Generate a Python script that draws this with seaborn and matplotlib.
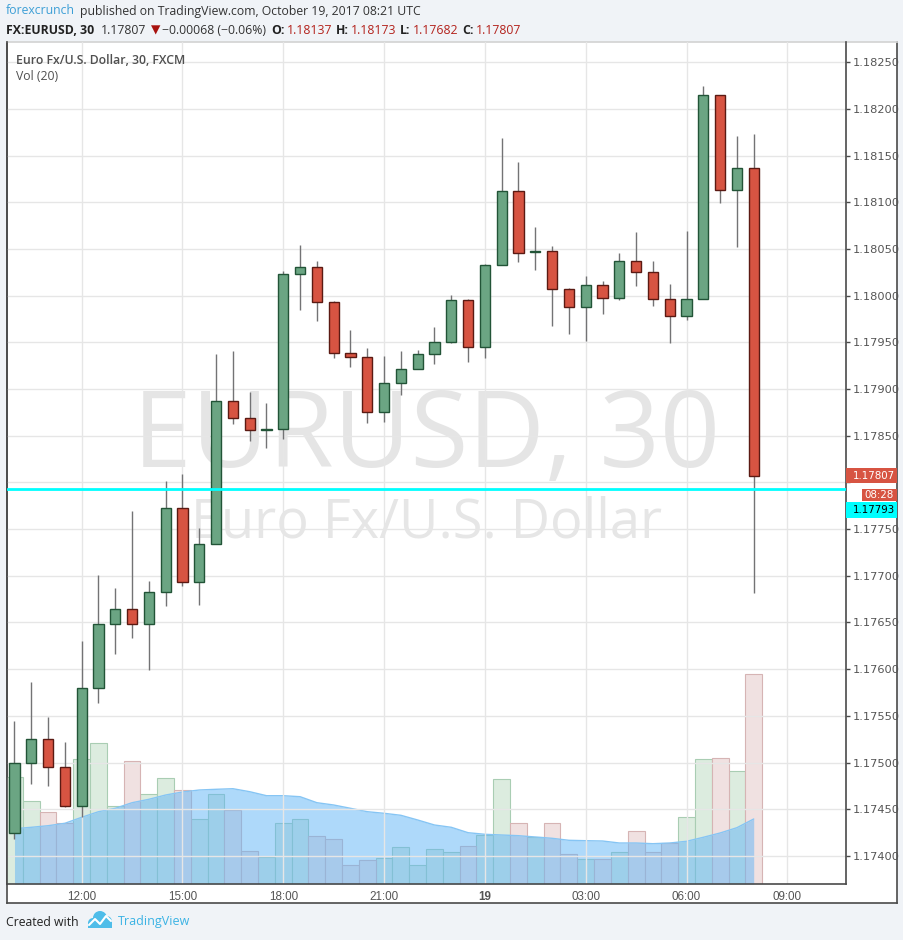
#EURUSD 30 min - recriacao do grafico do TradingView
import numpy as np
import pandas as pd
import matplotlib
matplotlib.use("Agg")
import matplotlib.pyplot as plt
import seaborn as sns
from matplotlib.patches import Rectangle, Circle
from matplotlib.transforms import IdentityTransform

#DADOS - candles de 30 min (18/10 10:00 ate 19/10 08:00)
abertura = [1.17424, 1.17499, 1.17525, 1.17495, 1.17453, 1.17580, 1.17648, 1.17664, 1.17648, 1.17683,
            1.17773, 1.17693, 1.17734, 1.17887, 1.17869, 1.17856, 1.17857, 1.18023, 1.18031, 1.17993,
            1.17939, 1.17934, 1.17875, 1.17907, 1.17922, 1.17938, 1.17950, 1.17995, 1.17945, 1.18033,
            1.18112, 1.18047, 1.18048, 1.18007, 1.17988, 1.18011, 1.17998, 1.18037, 1.18025, 1.17996,
            1.17978, 1.17996, 1.18215, 1.18113, 1.18137]
maxima = [1.17544, 1.17586, 1.17549, 1.17522, 1.17630, 1.17701, 1.17687, 1.17769, 1.17694, 1.17802,
          1.17809, 1.17751, 1.17938, 1.17941, 1.17897, 1.17885, 1.18026, 1.18054, 1.18037, 1.17994,
          1.17963, 1.17944, 1.17935, 1.17941, 1.17942, 1.17966, 1.18001, 1.17996, 1.18034, 1.18169,
          1.18143, 1.18074, 1.18053, 1.18008, 1.18021, 1.18016, 1.18046, 1.18068, 1.18037, 1.18013,
          1.18069, 1.18225, 1.18215, 1.18171, 1.18173]
minima = [1.17418, 1.17477, 1.17475, 1.17452, 1.17442, 1.17564, 1.17616, 1.17633, 1.17599, 1.17668,
          1.17689, 1.17669, 1.17734, 1.17863, 1.17844, 1.17837, 1.17847, 1.17985, 1.17973, 1.17933,
          1.17924, 1.17864, 1.17865, 1.17894, 1.17921, 1.17927, 1.17949, 1.17929, 1.17933, 1.18033,
          1.18036, 1.18028, 1.17968, 1.17959, 1.17951, 1.17980, 1.17995, 1.18010, 1.17989, 1.17949,
          1.17974, 1.17996, 1.18099, 1.18052, 1.17682]
fechamento = [1.17499, 1.17525, 1.17495, 1.17453, 1.17580, 1.17648, 1.17664, 1.17648, 1.17683, 1.17773,
              1.17693, 1.17734, 1.17887, 1.17869, 1.17856, 1.17857, 1.18023, 1.18031, 1.17993, 1.17939,
              1.17934, 1.17875, 1.17907, 1.17922, 1.17938, 1.17950, 1.17995, 1.17945, 1.18033, 1.18112,
              1.18046, 1.18047, 1.18007, 1.17988, 1.18011, 1.17998, 1.18037, 1.18025, 1.17996, 1.17978,
              1.17996, 1.18215, 1.18113, 1.18137, 1.17807]

#volume (unidades relativas)
volume = [1067, 827, 717, 610, 1250, 1407, 780, 1230, 897, 1057,
          937, 647, 897, 737, 327, 267, 607, 647, 477, 447,
          187, 237, 257, 367, 187, 347, 317, 377, 490, 1050,
          607, 467, 607, 297, 247, 247, 317, 527, 317, 407,
          670, 1247, 1257, 1127, 2097]
#media do volume - Vol (20)
vol_media = [553, 567, 583, 607, 667, 723, 757, 813, 847, 890,
             920, 940, 947, 953, 923, 883, 883, 873, 813, 790,
             757, 723, 707, 687, 640, 590, 567, 513, 497, 490,
             483, 470, 457, 437, 433, 430, 410, 410, 403, 410,
             427, 467, 510, 563, 650]

#eixo x (posicao do candle) e rotulos
hora_pos = [4, 10, 16, 22, 28, 34, 40, 46]
hora_rotulos = ["12:00", "15:00", "18:00", "21:00", "19", "03:00", "06:00", "09:00"]

#eixo de precos
preco_ticks = [1.17400, 1.17450, 1.17500, 1.17550, 1.17600, 1.17650, 1.17700, 1.17750, 1.17800,
               1.17850, 1.17900, 1.17950, 1.18000, 1.18050, 1.18100, 1.18150, 1.18200, 1.18250]

linha_ciano = 1.17793

df = pd.DataFrame({
    "idx": np.arange(len(abertura)),
    "o": abertura, "h": maxima, "l": minima, "c": fechamento,
    "vol": volume, "ma": vol_media,
})
df["lado"] = np.where(df["c"] >= df["o"], "alta", "baixa")

#CONFIGURACOES VISUAIS
sns.set_theme(style="white")
plt.rcParams["font.family"] = ["Open Sans", "DejaVu Sans"]

W, H = 904, 940
fig = plt.figure(figsize=(W / 100, H / 100), dpi=100)
fig.patch.set_facecolor("#f0f3f7")


def px(x0, y0, x1, y1):
    #retangulo em pixels (a partir do topo) -> fracao da figura
    return [x0 / W, 1 - y1 / H, (x1 - x0) / W, (y1 - y0) / H]


XLIM = (-0.446, 49.476)
YLIM = (1.173699, 1.182717)

#moldura externa
frame = fig.add_axes(px(7, 42, 897, 903))
frame.set_xticks([])
frame.set_yticks([])
frame.set_facecolor("white")
for s in ["left", "right", "bottom"]:
    frame.spines[s].set_color("#4a4a4a")
    frame.spines[s].set_linewidth(1.2)
frame.spines["top"].set_color("#d4d4d4")

#VOLUME
ax_vol = fig.add_axes(px(7, 42, 845.7, 884))
ax_vol.set_facecolor("none")
sns.barplot(
    data=df, x="idx", y="vol", hue="lado",
    palette={"alta": "#dcecdf", "baixa": "#f0e1e1"},
    native_scale=True, width=1.0, dodge=False, errorbar=None,
    saturation=1, legend=False, ax=ax_vol, linewidth=0.8,
)
for p in ax_vol.patches:
    i = int(round(p.get_x() + p.get_width() / 2))
    p.set_edgecolor("#a9cdb3" if df.loc[i, "lado"] == "alta" else "#d6b4b4")

#media movel do volume (area azul)
ax_vol.fill_between(df["idx"], df["ma"], color="#5fb4f6", alpha=0.5, lw=0, zorder=3)
sns.lineplot(data=df, x="idx", y="ma", color="#86c5f4", lw=1, ax=ax_vol, zorder=4)
ax_vol.set_xlim(*XLIM)
ax_vol.set_ylim(0, 8420)
ax_vol.axis("off")

#PRECO
ax = fig.add_axes(px(7, 42, 845.7, 884))
ax.set_facecolor("none")
ax.set_xlim(*XLIM)
ax.set_ylim(*YLIM)
ax.set_axisbelow(True)
ax.grid(True, color="#e6e6e6", lw=1)

#marca d'agua
ax.text(0.5, 0.4952, "EURUSD, 30", transform=ax.transAxes, ha="center", va="baseline",
        fontsize=76, color="#e5e5e5", zorder=0.5)
ax.text(0.5, 0.412, "Euro Fx/U.S. Dollar", transform=ax.transAxes, ha="center", va="baseline",
        fontsize=39, color="#e6e6e6", zorder=0.5)

#candles: pavio + corpo
alta = df["lado"] == "alta"
ax.vlines(df["idx"], df["l"], df["h"], color="#737375", lw=1, zorder=3)
base = np.minimum(df["o"], df["c"])
altura = np.maximum((df["c"] - df["o"]).abs(), 0.00001)
ax.bar(df["idx"], altura, bottom=base, width=0.6,
       color=np.where(alta, "#6ba583", "#d75442"),
       edgecolor=np.where(alta, "#225437", "#5b1a13"), lw=1, zorder=4)

ax.axhline(linha_ciano, color="#00ffff", lw=2, zorder=5)

#eixos
for s in ["left", "right", "bottom"]:
    ax.spines[s].set_color("#4a4a4a")
    ax.spines[s].set_linewidth(1.2)
ax.spines["top"].set_visible(False)

ax.set_xticks(hora_pos)
ax.set_xticklabels(hora_rotulos)
ax.set_yticks(preco_ticks)
#o rotulo 1.17800 fica escondido atras da etiqueta do ultimo preco
ax.set_yticklabels(["" if abs(v - 1.178) < 1e-9 else f"{v:.5f}" for v in preco_ticks])
ax.tick_params(axis="y", left=False, labelleft=False, right=True, labelright=True,
               length=3, width=1, color="#4a4a4a", pad=2, labelsize=8.2, labelcolor="#555555")
ax.tick_params(axis="x", bottom=True, length=0, pad=5, labelsize=8.4, labelcolor="#555555")
for t in ax.get_yticklabels():
    t.set_family("DejaVu Sans")
for t in ax.get_xticklabels():
    t.set_family("Liberation Sans")
    if t.get_text() == "19":
        t.set_fontweight("bold")

#legenda no canto
ax.text(9 / 838.7, 1 - 18.5 / 842, "Euro Fx/U.S. Dollar, 30, FXCM", transform=ax.transAxes,
        ha="left", va="center", fontsize=8.8, fontweight="semibold", color="#505050")
ax.text(9 / 838.7, 1 - 35 / 842, "Vol (20)", transform=ax.transAxes,
        ha="left", va="center", fontsize=8.8, color="#505050")

#rotulos do eixo de precos
ident = IdentityTransform()
y_ult = ax.transData.transform((0, fechamento[-1]))[1]
y_cia = ax.transData.transform((0, linha_ciano))[1]
fig.add_artist(Rectangle((846, y_ult - 7.5), 51, 15, facecolor="#d75442", lw=0, transform=ident))
fig.text(853 / W, y_ult / H, f"{fechamento[-1]:.5f}", color="white", fontsize=7.4,
         family="DejaVu Sans", va="center", ha="left")
fig.add_artist(Rectangle((862, y_ult - 25), 35, 12, facecolor="#d75442", lw=0, transform=ident))
fig.text(864 / W, (y_ult - 19) / H, "08:28", color="white", fontsize=7.4,
         family="DejaVu Sans", va="center", ha="left")
fig.add_artist(Rectangle((846, y_cia - 29), 51, 16, facecolor="#00ffff", lw=0, transform=ident))
fig.text(853 / W, (y_cia - 21) / H, f"{linha_ciano:.5f}", color="black", fontsize=7.4,
         family="DejaVu Sans", va="center", ha="left")

#CABECALHO
renderer = fig.canvas.get_renderer()


def linha_texto(pedacos, x, y, tamanho):
    for gap, txt, cor, peso, fam in pedacos:
        x += gap
        t = fig.text(x / W, 1 - y / H, txt, color=cor, fontweight=peso, fontsize=tamanho,
                     family=fam, ha="left", va="center")
        x = t.get_window_extent(renderer).x1


FONTE = ["Open Sans", "DejaVu Sans"]
VERM = "#b3221c"
linha_texto([
    (0, "forexcrunch", "#3d9fd6", "normal", FONTE),
    (5, "published on TradingView.com, October 19, 2017 08:21 UTC", "#333333", "normal", FONTE),
], 6, 11, 8.8)
linha_texto([
    (0, "FX:EURUSD, 30", "#222222", "bold", FONTE),
    (7, "1.17807", "#333333", "normal", FONTE),
    (4, "\u25bc", "#a8120f", "normal", ["DejaVu Sans"]),
    (2, "\u22120.00068 (\u22120.06%)", "#333333", "normal", FONTE),
    (5, "O:", "#222222", "bold", FONTE),
    (2, "1.18137", VERM, "normal", FONTE),
    (4, "H:", "#222222", "bold", FONTE),
    (2, "1.18173", VERM, "normal", FONTE),
    (4, "L:", "#222222", "bold", FONTE),
    (2, "1.17682", VERM, "normal", FONTE),
    (4, "C:", "#222222", "bold", FONTE),
    (2, "1.17807", VERM, "normal", FONTE),
], 6, 30, 8.8)

#RODAPE
fig.text(6 / W, 1 - 922 / H, "Created with", color="#222222", fontsize=8.8, va="center", ha="left")
azul = "#4fbde9"
for cx, cy, r in [(93, 17, 5), (100, 22, 7), (106.5, 18.5, 5.5)]:
    fig.add_artist(Circle((cx, cy), r, facecolor=azul, lw=0, transform=ident))
fig.add_artist(Rectangle((88, 12), 24, 6, facecolor=azul, lw=0, transform=ident))
fig.add_artist(plt.Line2D([89, 95, 100, 106, 111], [15, 21, 16, 24, 19], color="white", lw=1.5,
                          transform=ident))
fig.text(118 / W, 1 - 922 / H, "TradingView", color="#3bb3e4", fontsize=9, va="center", ha="left")

fig.savefig("out.png", dpi=100, facecolor=fig.get_facecolor())
